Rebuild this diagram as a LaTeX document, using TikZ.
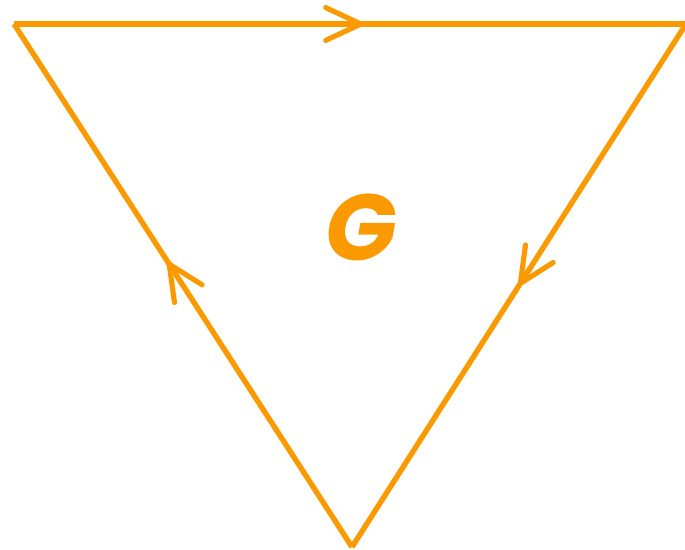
\documentclass[tikz,border=0pt]{standalone}
\usepackage{fontspec}
\usepackage{xcolor}
\usetikzlibrary{calc,decorations.markings,arrows.meta}
\newfontfamily\labelfont{Poppins}
\definecolor{edgeorange}{HTML}{FB9A00}
\tikzset{
  edge/.style={edgeorange,line width=4.6pt,line join=miter},
  midarrow/.style={postaction={decorate},decoration={markings,
    mark=at position #1 with {\arrow{Straight Barb[length=30pt,width=28pt,line width=4.4pt,round=false]}}}},
  vertex/.style={coordinate},
}
\begin{document}
\begin{tikzpicture}[x=0.03cm,y=-0.03cm]
  \useasboundingbox (0,0) rectangle (685,549);
  \node[vertex] (a) at (14,24) {};
  \node[vertex] (b) at (686,24) {};
  \node[vertex] (c) at (352,547) {};
  \draw[edge,midarrow=0.52] (a) -- (b);
  \draw[edge,midarrow=0.50] (b) -- (c);
  \draw[edge,midarrow=0.545] (c) -- (a);
  \node[edgeorange,font=\labelfont\bfseries\itshape\fontsize{80}{80}\selectfont] (g) at (361,227) {G};
\end{tikzpicture}
\end{document}
